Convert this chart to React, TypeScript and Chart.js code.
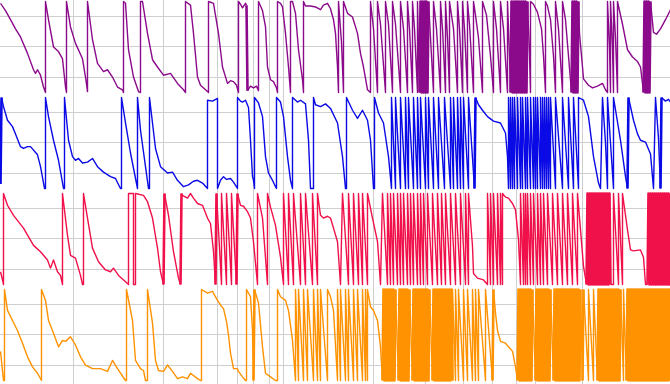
import { useEffect, useRef } from 'react';
import { Chart, registerables } from 'chart.js';

Chart.register(...registerables);

// vertical grid positions (x units) and horizontal grid ticks (per panel, 0-100 scale)
const GRID_X = [73, 163, 217, 237, 253, 269, 283, 373, 425, 463, 492, 516, 535, 582];
const GRID_Y = [16, 50, 84];

const purple: [number, number][] = [
  [0,98],[5,90],[10,80],[15,70],[20,61],[27,43],[33,25],[35,21],[37,25],[40,19],[43,6],[45,0],
  [45,100],[48,80],[53,50],[58,45],[62,37],[65,6],[66,0],
  [66,100],[70,72],[75,54],[82,37],[85,17],[87,1],
  [87,100],[92,58],[97,32],[103,23],[107,25],[112,17],[117,6],[122,3],[123,0],
  [123,100],[125,98],[128,47],[133,17],[138,1],[140,0],
  [140,100],[142,100],[147,65],[152,36],[157,28],[163,19],[170,21],[177,10],[183,3],[185,0],
  [185,100],[190,96],[193,65],[197,17],[200,8],[207,1],[208,0],
  [208,100],[213,98],[218,65],[222,28],[227,10],[230,13],[233,12],[236,8],[238,0],
  [238,100],[240,97],[242,93],[245,98],[246,96],[247,2],[250,7],[253,5],[256,7],[258,2],
  [258,100],[260,95],[262,90],[265,72],[267,28],[270,14],[273,12],[276,5],[277,0],
  [277,100],[280,98],[282,94],[285,65],[288,28],[290,0],
  [290,100],[292,100],[295,87],[298,47],[302,14],[303,0],
  [303,100],[305,95],[310,95],[315,94],[320,91],[323,96],[327,98],[330,92],[333,80],[335,65],[337,28],[338,0],
  [338,100],[341,55],[343,0],
  [343,100],[347,87],[352,83],[357,65],[360,43],[363,28],[367,3],[370,0],
  [370,100],[373,70],[377,0],
  [377,100],[380,75],[385,0],
  [385,100],[388,75],[392,0],
  [392,100],[395,75],[400,0],
  [400,100],[403,70],[407,0],
  [407,100],[409,70],[412,0],
  [412,100],[414,70],[417,0],
  [417,100],[418,50],[419,0],
  [420,100],[421,0],[422,100],[423,0],[424,100],[425,0],[426,100],[427,0],[428,100],[430,60],[433,0],
  [433,100],[436,70],[440,0],
  [440,100],[442,70],[445,0],
  [445,100],[447,60],[449,0],
  [449,100],[453,70],[457,0],
  [457,100],[459,70],[462,0],
  [462,100],[464,70],[467,0],
  [467,100],[469,75],[473,0],
  [473,100],[475,85],[478,60],[482,0],
  [482,100],[486,85],[490,40],[493,0],
  [493,100],[496,70],[500,0],
  [500,100],[503,70],[507,0],
  [507,100],[509,40],[510,0],
  [511,100],[512,0],[513,100],[514,0],[515,100],[516,0],[517,100],[518,0],[519,100],[520,0],[521,100],[522,0],[523,100],[524,0],[525,100],[526,0],[527,100],[529,40],[530,0],
  [530,100],[533,97],[537,88],[541,70],[543,40],[545,0],
  [545,100],[547,95],[550,80],[553,40],[555,0],
  [555,100],[558,70],[562,0],
  [562,100],[565,80],[568,40],[571,0],
  [572,100],[573,0],[574,100],[575,0],[576,100],[577,0],[578,100],[579,65],[582,28],[583,15],[588,8],[592,5],[597,7],[602,10],[605,3],[607,0],
  [607,100],[609,50],[610,0],
  [610,100],[612,50],[613,0],
  [613,100],[615,60],[617,0],
  [617,100],[622,75],[627,47],[632,39],[637,34],[640,28],[643,0],
  [644,100],[645,0],[646,100],[647,0],[648,100],[649,0],[650,100],[653,66],[656,64],[660,70],[665,80],[670,91],
];

const blue: [number, number][] = [
  [0,5],[1,100],[3,90],[7,75],[12,68],[15,60],[20,46],[23,44],[27,46],[30,46],[37,37],[40,24],[44,0],[45,0],
  [45,100],[48,79],[53,53],[58,31],[63,0],[64,0],
  [64,100],[68,53],[72,35],[75,31],[78,33],[82,28],[87,29],[92,33],[97,24],[103,18],[110,13],[115,11],[120,0],[121,0],
  [121,100],[125,72],[130,39],[137,0],
  [137,100],[140,64],[145,24],[148,0],[149,0],
  [149,100],[152,72],[155,44],[160,24],[167,17],[172,18],[177,9],[183,2],[188,4],[193,8],[197,9],[202,6],[207,0],
  [207,97],[212,96],[217,99],[217,0],[220,9],[223,13],[226,10],[230,11],[233,7],[237,0],
  [237,100],[240,96],[242,95],[245,97],[248,89],[250,53],[252,13],[253,9],[254,0],
  [254,100],[258,94],[262,79],[265,35],[268,17],[272,9],[275,2],[276,0],
  [276,100],[280,95],[283,79],[287,35],[290,9],[292,0],
  [292,100],[297,95],[300,97],[305,93],[308,53],[310,0],[313,0],
  [313,100],[315,92],[320,90],[325,93],[330,88],[337,72],[342,35],[345,0],[346,0],
  [346,100],[352,86],[357,77],[362,86],[367,75],[370,53],[373,0],[374,0],
  [374,100],[378,83],[383,72],[388,35],[391,0],
  [391,100],[395,0],[395,100],[400,0],[400,100],[405,0],[405,100],[408,0],[408,100],[413,0],[413,100],[417,0],
  [417,100],[420,0],[420,100],[425,0],[425,100],[428,0],[428,100],[433,0],[433,100],[438,0],[438,100],[444,0],
  [444,100],[450,0],[450,100],[453,0],[453,100],[457,0],[457,100],[460,0],[460,100],[463,0],[463,100],[468,0],[468,100],[474,0],
  [475,100],[478,92],[482,86],[487,79],[493,74],[500,72],[505,61],[507,35],[508,0],
  [508,100],[510,0],[510,100],[512,0],[512,100],[514,0],[514,100],[517,0],[517,100],[520,0],[520,100],[522,0],
  [522,100],[525,0],[525,100],[527,0],[527,100],[530,0],[530,100],[533,0],[533,100],[535,0],[535,100],[537,0],
  [537,100],[540,0],[540,100],[542,0],[542,100],[544,0],[544,100],[546,0],[546,100],[548,0],[548,100],[550,0],
  [550,100],[555,0],[555,100],[562,0],[562,100],[568,0],[568,100],[573,0],[573,100],[578,0],
  [578,100],[583,97],[588,79],[593,35],[598,6],[600,0],
  [602,100],[605,50],[607,0],[607,100],[610,50],[613,0],
  [613,100],[620,53],[625,13],[627,0],
  [628,100],[633,75],[637,60],[640,53],[645,51],[650,38],[653,0],
  [655,100],[658,55],[660,0],[661,100],[665,96],[668,98],[670,95],
];

const red: [number, number][] = [
  [0,14],[2,5],[3,0],[3,100],[7,87],[13,76],[23,62],[33,43],[40,36],[47,27],[50,18],[53,27],[57,14],[60,10],[62,0],
  [62,100],[67,54],[70,32],[75,29],[80,10],[82,0],[83,0],
  [83,100],[87,73],[92,40],[98,25],[105,16],[110,14],[113,18],[118,10],[127,1],[128,0],
  [128,100],[133,100],[133,0],[135,0],[135,100],[143,98],[147,91],[152,73],[157,40],[160,14],[163,0],
  [164,100],[168,76],[173,36],[178,7],[180,0],
  [181,100],[182,98],[187,95],[190,100],[193,95],[197,89],[202,87],[207,73],[210,67],[213,36],[215,0],
  [216,100],[221,0],[221,100],[226,0],[226,100],[231,0],[231,100],[236,0],
  [237,100],[240,87],[243,86],[247,80],[250,73],[253,47],[257,0],
  [257,100],[262,73],[267,0],
  [267,100],[270,85],[275,65],[280,30],[283,0],
  [283,100],[288,0],[288,100],[293,0],[293,100],[300,0],[300,100],[305,0],[305,100],[312,0],[312,100],[317,0],
  [317,100],[320,76],[323,73],[327,75],[330,73],[333,62],[337,47],[340,0],
  [342,100],[348,0],[348,100],[353,0],[353,100],[358,0],[358,100],[362,0],[362,100],[367,0],
  [367,100],[372,73],[377,47],[380,0],
  [382,100],[387,0],[387,100],[390,0],[390,100],[393,0],[393,100],[397,0],[397,100],[400,0],[400,100],[403,0],
  [403,100],[407,0],[407,100],[410,0],[410,100],[413,0],[413,100],[417,0],[417,100],[420,0],[420,100],[423,0],
  [423,100],[427,0],[427,100],[432,0],[432,100],[437,0],[437,100],[441,0],[441,100],[445,0],[445,100],[450,0],
  [450,100],[455,0],[455,100],[460,0],[460,100],[465,0],[465,100],[468,0],
  [468,100],[472,42],[473,12],[477,7],[483,5],[487,0],
  [487,100],[490,0],[490,100],[493,0],[493,100],[497,0],[497,100],[500,0],[500,100],[502,0],
  [502,100],[505,96],[508,95],[512,89],[515,82],[518,49],[520,0],
  [520,100],[523,0],[523,100],[525,0],[525,100],[527,0],[527,100],[530,0],[530,100],[533,0],[533,100],[537,0],
  [537,100],[540,0],[540,100],[543,0],[543,100],[547,0],[547,100],[552,0],[552,100],[557,0],[557,100],[562,0],
  [562,100],[567,0],[567,100],[572,0],[572,100],[577,0],[577,100],[580,60],[583,20],[586,0],
  [587,100],[588,0],[589,100],[590,0],[591,100],[592,0],[593,100],[594,0],[595,100],[596,0],[597,100],[598,0],
  [599,100],[600,0],[601,100],[602,0],[603,100],[604,0],[605,100],[606,0],[607,100],[608,0],[609,100],[610,0],
  [613,0],[613,100],[618,0],[618,100],[622,0],
  [622,100],[627,60],[630,38],[633,37],[640,38],[643,30],[645,0],
  [647,0],[648,100],[649,0],[650,100],[651,0],[652,100],[653,0],[654,100],[655,0],[656,100],[657,0],[658,100],
  [659,0],[660,100],[661,0],[662,100],[663,0],[664,100],[665,0],[666,100],[667,0],[668,100],[669,0],[670,100],
];

const orange: [number, number][] = [
  [0,32],[3,0],[4,0],[4,100],[7,77],[12,66],[17,55],[22,41],[27,26],[32,15],[37,8],[41,0],
  [41,100],[45,88],[48,66],[53,52],[58,37],[62,44],[65,43],[70,48],[75,39],[80,26],[85,17],[92,13],[100,13],[107,10],[112,22],[117,13],[125,0],[126,0],
  [126,100],[132,66],[135,22],[140,13],[143,11],[145,0],[147,0],
  [147,100],[152,63],[155,22],[158,11],[163,10],[167,17],[172,10],[177,2],[182,4],[187,2],[190,8],[197,2],[200,0],[201,0],
  [201,100],[207,96],[212,98],[217,88],[220,83],[223,79],[226,65],[228,50],[230,30],[233,13],[237,13],[238,10],[242,4],[245,0],[246,0],
  [246,100],[250,92],[252,55],[253,0],
  [254,100],[258,85],[262,37],[265,8],[270,4],[275,0],[277,0],
  [277,100],[280,92],[285,88],[288,77],[292,44],[295,0],
  [295,100],[298,0],[298,100],[303,0],[303,100],[307,0],[307,100],[313,0],[313,100],[317,0],[317,100],[320,0],[320,100],[327,0],
  [327,100],[330,92],[333,77],[337,0],
  [337,100],[340,0],[340,100],[345,0],[345,100],[348,0],[348,100],[353,0],[353,100],[357,0],[357,100],[362,0],[362,100],[365,0],[365,100],[367,0],
  [367,100],[370,81],[373,77],[377,66],[380,37],[382,0],
  [383,100],[384,0],[385,100],[386,0],[387,100],[388,0],[389,100],[390,0],[391,100],[392,0],[393,100],[394,0],
  [395,100],[398,0],[399,100],[400,0],[401,100],[402,0],[403,100],[404,0],[405,100],[406,0],[407,100],[408,0],
  [409,100],[412,0],[413,100],[414,0],[415,100],[416,0],[417,100],[418,0],[419,100],[420,0],[421,100],[422,0],
  [423,100],[424,0],[425,100],[426,0],[427,100],[428,0],[429,100],[432,0],[433,100],[434,0],[435,100],[436,0],
  [437,100],[438,0],[439,100],[440,0],[441,100],[442,0],[443,100],[444,0],[445,100],[446,0],[447,100],[448,0],
  [449,100],[450,0],[451,100],[452,0],
  [452,100],[455,0],[455,100],[458,0],[458,100],[463,0],[463,100],[467,0],[467,100],[472,0],[472,100],[475,0],
  [475,100],[478,0],[478,100],[485,0],[485,100],[492,0],
  [493,100],[495,74],[497,55],[500,43],[505,41],[508,37],[512,32],[515,15],[517,0],
  [518,100],[519,0],[520,100],[521,0],[522,100],[523,0],[524,100],[525,0],[526,100],[527,0],[528,100],[529,0],
  [530,100],[531,0],[532,100],[535,0],[536,100],[537,0],[538,100],[539,0],[540,100],[541,0],[542,100],[543,0],
  [544,100],[545,0],[546,100],[547,0],[548,100],[549,0],[550,100],[553,0],[554,100],[555,0],[556,100],[557,0],
  [558,100],[559,0],[560,100],[561,0],[562,100],[563,0],[564,100],[565,0],[566,100],[567,0],[568,100],[569,0],
  [570,100],[571,0],[572,100],[573,0],[574,100],[575,0],[576,100],[577,0],[578,100],[579,0],[580,100],[582,0],
  [583,100],[588,0],[588,100],[593,0],[593,100],[597,0],
  [598,100],[599,0],[600,100],[601,0],[602,100],[603,0],[604,100],[605,0],[606,100],[607,0],[608,100],[609,0],
  [610,100],[611,0],[612,100],[613,0],[614,100],[615,0],[616,100],[617,0],[618,100],[619,0],[620,100],[623,0],
  [623,100],[626,0],[627,100],[628,0],[629,100],[630,0],[631,100],[632,0],[633,100],[634,0],[635,100],[636,0],
  [637,100],[638,0],[639,100],[640,0],[641,100],[642,0],[643,100],[644,0],[645,100],[646,0],[647,100],[648,0],
  [649,100],[650,0],[651,100],[652,0],[653,100],[654,0],[655,100],[656,0],[657,100],[658,0],[659,100],[660,0],
  [661,100],[662,0],[663,100],[664,0],[665,100],[666,0],[667,100],[668,0],[669,100],[670,0],
];

// panels listed top to bottom
const SERIES = [
  { name: 'Series 1', data: purple, color: '#8b0a8b', axis: 'y1' },
  { name: 'Series 2', data: blue, color: '#0a0ae6', axis: 'y2' },
  { name: 'Series 3', data: red, color: '#f0104a', axis: 'y3' },
  { name: 'Series 4', data: orange, color: '#ff9200', axis: 'y4' },
];

const GRID_COLOR = '#cfcfcf';
const LINE_W = 1.4;
const DENSE_W = 2.6;

export default function App() {
  const ref = useRef<HTMLCanvasElement>(null);

  useEffect(() => {
    if (!ref.current) return;
    const yAxis = () => ({
      type: 'linear' as const,
      position: 'left' as const,
      stack: 'panels',
      stackWeight: 1,
      min: -3.85,
      max: 101.65,
      afterBuildTicks: (s: any) => {
        s.ticks = GRID_Y.map((v) => ({ value: v }));
      },
      ticks: { display: false },
      grid: { color: GRID_COLOR, drawTicks: false, lineWidth: 1 },
      border: { display: false },
    });
    // stacked axes are laid out bottom-first, so add them in reverse
    const yScales: Record<string, any> = {};
    [...SERIES].reverse().forEach((s) => {
      yScales[s.axis] = yAxis();
    });
    // rapid full-range oscillations (one unit apart) are drawn heavier so they read as solid bands
    const segWidth = (ctx: any) => {
      const dx = ctx.p1.parsed.x - ctx.p0.parsed.x;
      const dy = Math.abs(ctx.p1.parsed.y - ctx.p0.parsed.y);
      return dx > 0 && dx <= 1 && dy >= 90 ? DENSE_W : LINE_W;
    };
    const chart = new Chart(ref.current, {
      type: 'line',
      data: {
        datasets: SERIES.map((s) => ({
          label: s.name,
          data: s.data.map(([x, y]) => ({ x, y })),
          borderColor: s.color,
          backgroundColor: s.color,
          borderWidth: LINE_W,
          borderJoinStyle: 'round' as const,
          borderDash: [2000, 0],
          segment: { borderWidth: segWidth },
          pointRadius: 0,
          tension: 0,
          fill: false,
          yAxisID: s.axis,
        })),
      },
      options: {
        animation: false,
        responsive: false,
        events: [],
        layout: { padding: 0 },
        plugins: { legend: { display: false }, tooltip: { enabled: false } },
        scales: {
          x: {
            type: 'linear',
            min: -0.5,
            max: 669.5,
            afterBuildTicks: (s: any) => {
              s.ticks = GRID_X.map((v) => ({ value: v }));
            },
            ticks: { display: false },
            grid: { color: GRID_COLOR, drawTicks: false, lineWidth: 1 },
            border: { display: false },
          },
          ...yScales,
        },
      } as any,
    });
    return () => chart.destroy();
  }, []);

  return (
    <canvas
      ref={ref}
      width={670}
      height={384}
      style={{ display: 'block', position: 'absolute', left: 0, top: 0 }}
    />
  );
}
